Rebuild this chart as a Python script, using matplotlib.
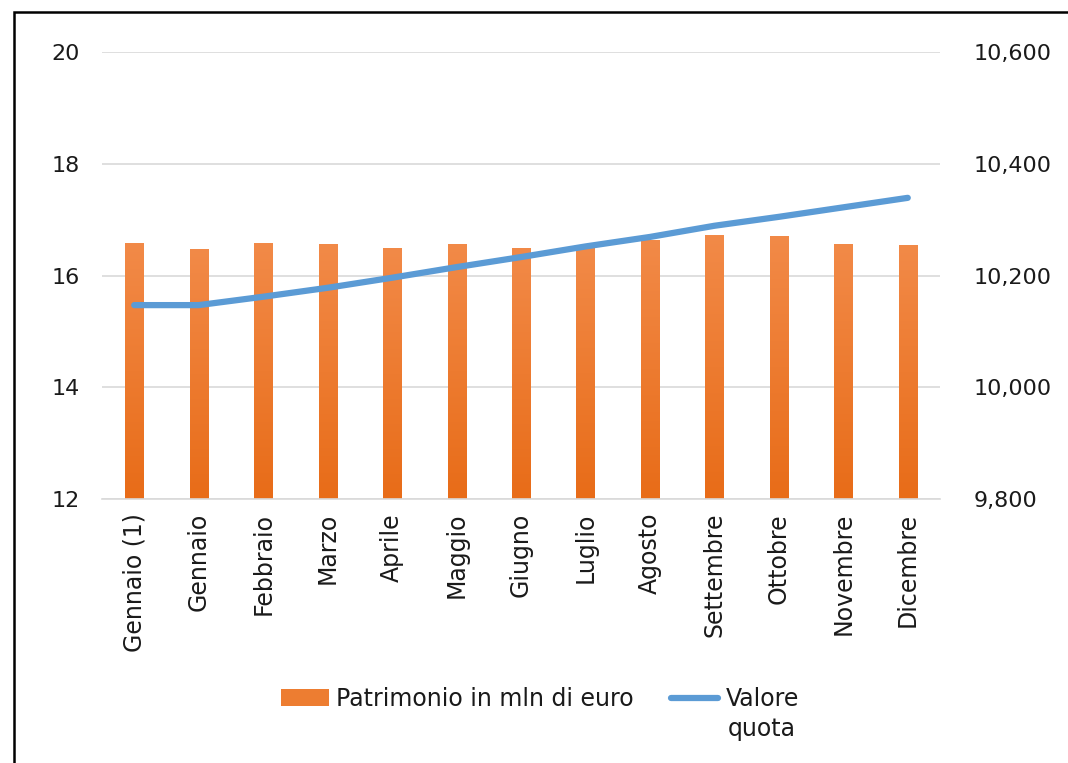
import numpy as np
import matplotlib
matplotlib.use("Agg")
import matplotlib.pyplot as plt
from matplotlib.patches import Rectangle, Patch
from matplotlib.lines import Line2D
from matplotlib.ticker import FuncFormatter

plt.rcParams["font.family"] = ["DejaVu Sans"]

mesi = ["Gennaio (1)", "Gennaio", "Febbraio", "Marzo", "Aprile", "Maggio",
        "Giugno", "Luglio", "Agosto", "Settembre", "Ottobre", "Novembre", "Dicembre"]
patrimonio = [16.58, 16.48, 16.58, 16.56, 16.49, 16.57, 16.49,
              16.50, 16.64, 16.72, 16.71, 16.56, 16.55]
valore_quota = [10147, 10147, 10162, 10178, 10196, 10215, 10233,
                10252, 10269, 10289, 10305, 10322, 10339]


def main():
    fig = plt.figure(figsize=(10.68, 7.63), dpi=100)
    ax = fig.add_axes([102 / 1068, 1 - 499 / 763, 838 / 1068, 447 / 763])
    ax2 = ax.twinx()

    x = np.arange(len(mesi))
    width = 0.28

    ax.grid(axis="y", color="#D9D9D9", linewidth=1.2)
    ax.set_axisbelow(True)

    # bars with vertical gradient
    grad = np.linspace(0, 1, 256).reshape(-1, 1)
    cmap = matplotlib.colors.LinearSegmentedColormap.from_list(
        "og", ["#E86C18", "#F28A48"])
    bars = ax.bar(x, np.array(patrimonio) - 12, width, bottom=12,
                  color="#ED7D31", zorder=2)
    for b in bars:
        bx, by = b.get_x(), b.get_y()
        bw, bh = b.get_width(), b.get_height()
        im = ax.imshow(grad, cmap=cmap, aspect="auto", origin="lower",
                       extent=[bx, bx + bw, by, by + bh], zorder=2.1)
        im.set_clip_path(b)
    ax.set_xlim(-0.5, len(mesi) - 0.5)
    ax.set_ylim(12, 20)
    ax.set_yticks([12, 14, 16, 18, 20])

    ax2.plot(x, valore_quota, color="#5B9BD5", linewidth=4.5,
             solid_capstyle="round", solid_joinstyle="round", zorder=3)
    ax2.set_ylim(9800, 10600)
    ax2.set_yticks([9800, 10000, 10200, 10400, 10600])
    ax2.yaxis.set_major_formatter(FuncFormatter(lambda v, p: f"{v:,.0f}"))

    ax.set_xticks(x)
    ax.set_xticklabels(mesi, rotation=90, fontsize=17)
    for a in (ax, ax2):
        for s in a.spines.values():
            s.set_visible(False)
        a.tick_params(length=0, colors="#1a1a1a")
    ax.tick_params(axis="y", labelsize=16, pad=16)
    ax2.tick_params(axis="y", labelsize=16, pad=24)
    ax.spines["bottom"].set_visible(True)
    ax.spines["bottom"].set_color("#D9D9D9")
    ax.spines["bottom"].set_linewidth(1.2)
    ax.tick_params(axis="x", pad=10)

    handles = [Patch(facecolor="#ED7D31", edgecolor="none"),
               Line2D([0], [0], color="#5B9BD5", linewidth=4.5, solid_capstyle="round")]
    leg = fig.legend(handles, ["Patrimonio in mln di euro", "Valore"],
                     loc="center", bbox_to_anchor=(540 / 1068, 1 - 699 / 763),
                     ncol=2, frameon=False, fontsize=17, handlelength=2.0,
                     handletextpad=0.3, columnspacing=1.6)
    for t in leg.get_texts():
        t.set_color("#1a1a1a")
    # second line of the wrapped legend label
    fig.canvas.draw()
    ax.annotate("quota", xy=(0.5, 0), xycoords=leg.get_texts()[1],
                xytext=(0, -4), textcoords="offset points",
                ha="center", va="top", fontsize=17, color="#1a1a1a",
                annotation_clip=False)

    border = Rectangle((14 / 1068, -0.05), 1.1, 1 - 12 / 763 + 0.05,
                       transform=fig.transFigure, fill=False,
                       edgecolor="black", linewidth=1.8)
    fig.patches.append(border)

    fig.savefig("out.png", dpi=100)


if __name__ == "__main__":
    main()
